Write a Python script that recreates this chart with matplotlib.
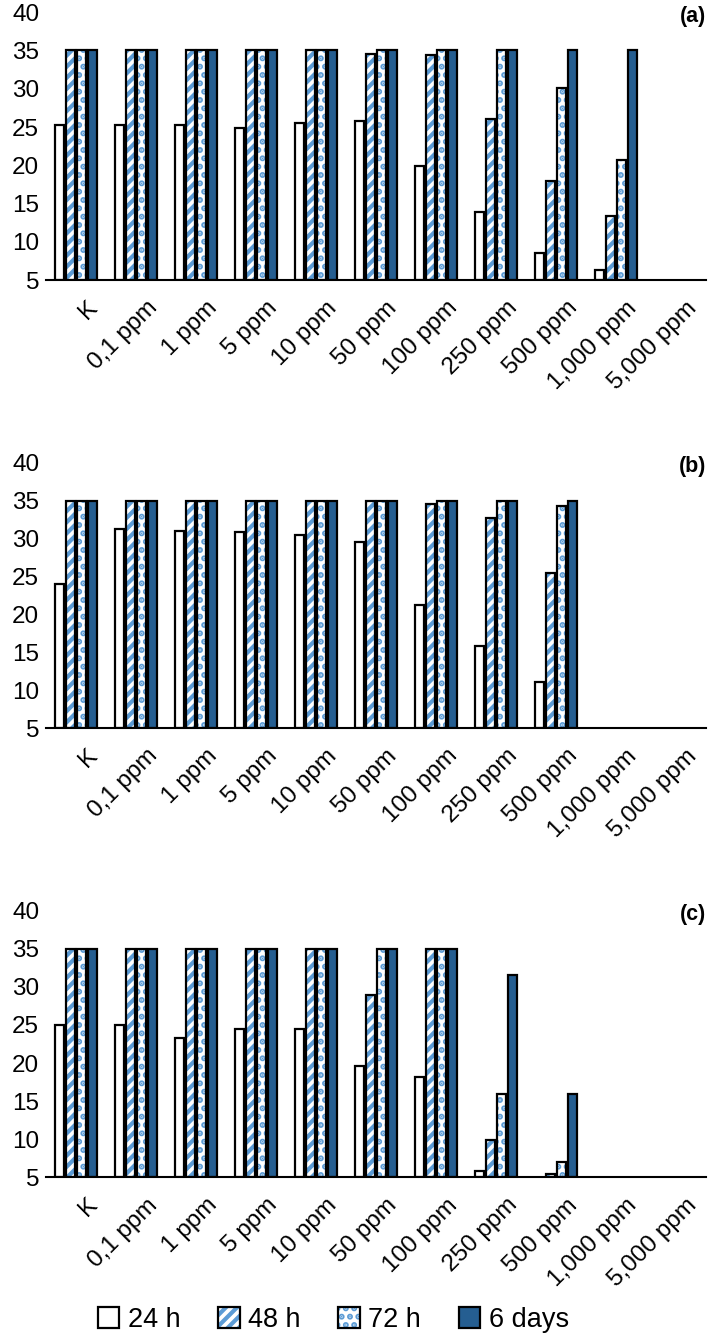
import numpy as np
import matplotlib.pyplot as plt
import matplotlib.transforms as mtrans
from matplotlib.patches import Patch
from matplotlib.legend_handler import HandlerTuple

plt.rcParams['font.family'] = ['Liberation Sans', 'DejaVu Sans']
plt.rcParams['hatch.linewidth'] = 3.0

categories = ['K', '0,1 ppm', '1 ppm', '5 ppm', '10 ppm', '50 ppm', '100 ppm',
              '250 ppm', '500 ppm', '1,000 ppm', '5,000 ppm']
series = ['24 h', '48 h', '72 h', '6 days']
nan = np.nan

# panel (a)
a_24h = [25.3, 25.3, 25.2, 24.9, 25.5, 25.8, 19.9, 13.9, 8.5, 6.4, nan]
a_48h = [35, 35, 35, 35, 35, 34.5, 34.4, 26.0, 18.0, 13.4, nan]
a_72h = [35, 35, 35, 35, 35, 35, 35, 35, 30.1, 20.7, nan]
a_6d = [35, 35, 35, 35, 35, 35, 35, 35, 35, 35, nan]

# panel (b)
b_24h = [24.0, 31.3, 31.0, 30.8, 30.4, 29.6, 21.2, 15.8, 11.1, nan, nan]
b_48h = [35, 35, 35, 35, 35, 35, 34.5, 32.7, 25.5, nan, nan]
b_72h = [35, 35, 35, 35, 35, 35, 35, 35, 34.3, nan, nan]
b_6d = [35, 35, 35, 35, 35, 35, 35, 35, 35, nan, nan]

# panel (c)
c_24h = [25.0, 25.0, 23.3, 24.4, 24.5, 19.6, 18.2, 5.8, nan, nan, nan]
c_48h = [35, 35, 35, 35, 35, 28.9, 35, 9.9, 5.4, nan, nan]
c_72h = [35, 35, 35, 35, 35, 35, 35, 16.0, 7.0, nan, nan]
c_6d = [35, 35, 35, 35, 35, 35, 35, 31.6, 16.0, nan, nan]

panels = [('(a)', [a_24h, a_48h, a_72h, a_6d]),
          ('(b)', [b_24h, b_48h, b_72h, b_6d]),
          ('(c)', [c_24h, c_48h, c_72h, c_6d])]

DARK = '#255e91'
LIGHT = '#5b9bd5'
faces = ['white', 'white', 'white', DARK]
hatches = [None, '///', '..', None]
EDGE_LW = 1.6

fig = plt.figure(figsize=(7.09, 13.41), dpi=100)
# axes boxes in figure fraction (left, bottom, width, height)
boxes = [(0.065, 0.791, 0.931, 0.200),
         (0.065, 0.457, 0.931, 0.198),
         (0.065, 0.122, 0.931, 0.199)]

x = np.arange(len(categories))
step = 0.183
width = 0.155

for (label, data), box in zip(panels, boxes):
    ax = fig.add_axes(box)
    for k, vals in enumerate(data):
        vals = np.array(vals, dtype=float)
        m = ~np.isnan(vals)
        xs = x[m] + (k - 1.5) * step
        h = vals[m] - 5
        if hatches[k]:
            ax.bar(xs, h, width, bottom=5, color=faces[k], hatch=hatches[k],
                   edgecolor=LIGHT, linewidth=0)
            ax.bar(xs, h, width, bottom=5, fill=False, edgecolor='black',
                   linewidth=EDGE_LW)
        else:
            ax.bar(xs, h, width, bottom=5, color=faces[k], edgecolor='black',
                   linewidth=EDGE_LW)
    ax.set_xlim(-0.5, len(categories) - 0.5)
    ax.set_ylim(5, 40)
    ax.set_yticks(range(5, 41, 5))
    ax.set_xticks(x)
    ax.set_xticklabels(categories, rotation=45, ha='right',
                       rotation_mode='anchor')
    ax.tick_params(length=0, labelsize=17.5, pad=5)
    ax.tick_params(axis='x', pad=12)
    shift = mtrans.ScaledTranslation(10 / 100, 0, fig.dpi_scale_trans)
    for t in ax.get_xticklabels():
        t.set_transform(t.get_transform() + shift)
    for s in ['top', 'right', 'left']:
        ax.spines[s].set_visible(False)
    ax.spines['bottom'].set_linewidth(1.5)
    ax.text(1.0, 0.985, label, transform=ax.transAxes, ha='right', va='center',
            fontsize=15.5, fontweight='bold')

handles = []
for k in range(4):
    if hatches[k]:
        handles.append((Patch(facecolor=faces[k], hatch=hatches[k],
                              edgecolor=LIGHT, linewidth=0),
                        Patch(fill=False, edgecolor='black', linewidth=EDGE_LW)))
    else:
        handles.append(Patch(facecolor=faces[k], edgecolor='black',
                             linewidth=EDGE_LW))

fig.legend(handles, series, loc='lower center', bbox_to_anchor=(0.47, -0.012),
           ncol=4, frameon=False, fontsize=19.5, handlelength=0.8,
           handleheight=0.8, handletextpad=0.3, columnspacing=1.4,
           handler_map={tuple: HandlerTuple(ndivide=1, pad=0)})

fig.savefig('out.png', dpi=100)
